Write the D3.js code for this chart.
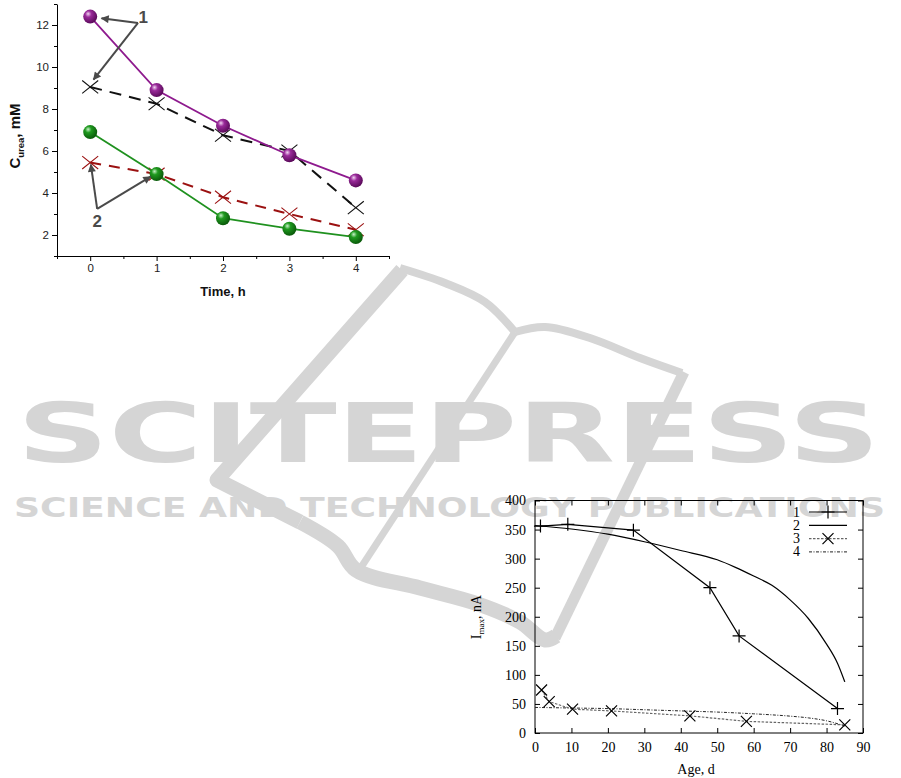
<!DOCTYPE html>
<html><head><meta charset="utf-8">
<script src="https://cdn.jsdelivr.net/npm/d3@7"></script>
<style>body{margin:0;background:#fff}svg{display:block}</style>
</head><body>
<svg id="c" width="901" height="778"></svg>
<script>
// ---------- Chart 1 data (urea concentration vs time) ----------
const times = [0, 1, 2, 3, 4];
const s1Sphere = [12.4, 8.9, 7.2, 5.8, 4.6];
const s1Cross = [9.05, 8.25, 6.75, 6.0, 3.3];
const s2Sphere = [6.9, 4.9, 2.8, 2.3, 1.9];
const s2Cross = [5.45, 4.9, 3.8, 3.0, 2.25];
const c1XTicks = [0, 1, 2, 3, 4];
const c1XMinor = [-0.5, 0.5, 1.5, 2.5, 3.5, 4.5];
const c1YTicks = [2, 4, 6, 8, 10, 12];
const c1YMinor = [1, 3, 5, 7, 9, 11, 13];

// ---------- Chart 2 data (Imax vs age) ----------
const age1 = [1.5, 9, 27, 48, 56, 83];
const imax1 = [356, 359, 349, 250, 167, 42];
const age2 = [0, 10, 20, 30, 40, 50, 55, 60, 65, 70, 75, 80, 83, 85];
const imax2 = [357, 351, 342, 329, 314, 298, 285, 270, 254, 229, 197, 153, 120, 88];
const age3 = [1.8, 3.9, 10.3, 21, 42.5, 58, 85];
const imax3 = [74, 54, 41, 38, 29.5, 20, 14];
const age4 = [0, 10, 20, 30, 40, 50, 60, 70, 75, 80, 85];
const imax4 = [44, 43, 42, 40, 38, 36, 33, 29, 26, 21, 12];
const c2XTicks = [0, 10, 20, 30, 40, 50, 60, 70, 80, 90];
const c2YTicks = [0, 50, 100, 150, 200, 250, 300, 350, 400];
const legendLabels = ["1", "2", "3", "4"];

const svg = d3.select("#c");
const defs = svg.append("defs");

// ---------- Watermark (decorative) ----------
const wmColor = "#d5d5d5";
const wm = svg.append("g").attr("fill", "none").attr("stroke", wmColor).attr("stroke-linecap", "butt").attr("stroke-linejoin", "round");
const ln = d3.line().curve(d3.curveCatmullRom);
wm.append("path").attr("stroke-width", 15)
  .attr("d", d3.line()([[402, 270], [217, 480], [300, 522]]));
wm.append("path").attr("stroke-width", 15)
  .attr("d", ln([[300, 522], [338, 546], [356, 570], [420, 588], [478, 604], [520, 622], [545, 640], [556, 636]]));
wm.append("path").attr("stroke-width", 8)
  .attr("d", ln([[400, 268], [445, 283], [485, 302], [515, 332]]));
wm.append("path").attr("stroke-width", 8)
  .attr("d", ln([[515, 332], [545, 327], [590, 338], [640, 358], [682, 373]]));
wm.append("path").attr("stroke-width", 7)
  .attr("d", d3.line()([[515, 332], [358, 572]]));
wm.append("path").attr("stroke-width", 11)
  .attr("d", d3.line()([[684, 372], [555, 638]]));
svg.append("text").attr("x", 17).attr("y", 462)
  .attr("textLength", 863).attr("lengthAdjust", "spacingAndGlyphs")
  .attr("font-family", "DejaVu Sans").attr("font-weight", "bold").attr("font-size", 82)
  .attr("fill", wmColor).text("SCITEPRESS");
svg.append("text").attr("x", 14).attr("y", 517)
  .attr("textLength", 871).attr("lengthAdjust", "spacingAndGlyphs")
  .attr("font-family", "DejaVu Sans").attr("font-weight", "bold").attr("font-size", 26)
  .attr("fill", wmColor).text("SCIENCE AND TECHNOLOGY PUBLICATIONS");

// ---------- Chart 1 ----------
const x1 = d3.scaleLinear().domain([-0.5, 4.5]).range([57, 389]);
const y1 = d3.scaleLinear().domain([1, 13]).range([256, 4]);
const g1 = svg.append("g");
const f1 = "Liberation Sans, Arial, sans-serif";

function styleAxis(g, font, size) {
  g.selectAll("path.domain").attr("stroke", "#000").attr("stroke-width", 1);
  g.selectAll(".tick line").attr("stroke", "#000");
  g.selectAll(".tick text").attr("font-family", font).attr("font-size", size).attr("fill", "#222");
}
g1.append("g").attr("transform", "translate(0,256)")
  .call(d3.axisBottom(x1).tickValues(c1XMinor).tickSize(3).tickFormat("").tickSizeOuter(0))
  .call(g => { g.select(".domain").remove(); g.selectAll("line").attr("stroke", "#000"); });
g1.append("g").attr("transform", "translate(57,0)")
  .call(d3.axisLeft(y1).tickValues(c1YMinor).tickSize(3).tickFormat("").tickSizeOuter(0))
  .call(g => { g.select(".domain").remove(); g.selectAll("line").attr("stroke", "#000"); });
g1.append("g").attr("transform", "translate(0,256)")
  .call(d3.axisBottom(x1).tickValues(c1XTicks).tickFormat(d3.format("d")).tickSize(5).tickSizeOuter(0).tickPadding(3))
  .call(g => styleAxis(g, f1, 11.5));
g1.append("g").attr("transform", "translate(57,0)")
  .call(d3.axisLeft(y1).tickValues(c1YTicks).tickFormat(d3.format("d")).tickSize(5).tickSizeOuter(0).tickPadding(3))
  .call(g => styleAxis(g, f1, 11.5));

g1.append("text").attr("x", 223).attr("y", 296).attr("text-anchor", "middle")
  .attr("font-family", f1).attr("font-weight", "bold").attr("font-size", 13).attr("fill", "#111").text("Time, h");
const yl1 = g1.append("text").attr("transform", "translate(20,136) rotate(-90)").attr("text-anchor", "middle")
  .attr("font-family", f1).attr("font-weight", "bold").attr("font-size", 15).attr("fill", "#111");
yl1.append("tspan").text("C");
yl1.append("tspan").attr("font-size", 9.5).attr("dy", 4).text("urea");
yl1.append("tspan").attr("dy", -4).text(", mM");

function sphereGrad(id, light, mid, dark) {
  const gr = defs.append("radialGradient").attr("id", id).attr("cx", "38%").attr("cy", "35%").attr("r", "65%").attr("fx", "35%").attr("fy", "30%");
  gr.append("stop").attr("offset", "0%").attr("stop-color", light);
  gr.append("stop").attr("offset", "35%").attr("stop-color", mid);
  gr.append("stop").attr("offset", "100%").attr("stop-color", dark);
}
sphereGrad("gp", "#f3d6f3", "#9a2a9a", "#5a0a5a");
sphereGrad("gg", "#c8f0c8", "#1f9a1f", "#0a5a0a");

const lineC1 = d3.line().x((d, i) => x1(times[i])).y(d => y1(d));
function crossSeries(vals, color, dash) {
  g1.append("path").attr("d", lineC1(vals)).attr("fill", "none").attr("stroke", color)
    .attr("stroke-width", 2).attr("stroke-dasharray", dash);
  vals.forEach((v, i) => {
    const cx = x1(times[i]), cy = y1(v), s = 8;
    g1.append("path").attr("d", `M${cx - s},${cy - s * 0.8}L${cx + s},${cy + s * 0.8}M${cx - s},${cy + s * 0.8}L${cx + s},${cy - s * 0.8}`)
      .attr("stroke", color).attr("stroke-width", 1.1).attr("fill", "none");
  });
}
crossSeries(s1Cross, "#111", "12,8");
crossSeries(s2Cross, "#9b1111", "11,8");
function sphereSeries(vals, color, grad) {
  g1.append("path").attr("d", lineC1(vals)).attr("fill", "none").attr("stroke", color).attr("stroke-width", 1.8);
  g1.selectAll(null).data(vals).enter().append("circle")
    .attr("cx", (d, i) => x1(times[i])).attr("cy", d => y1(d)).attr("r", 7)
    .attr("fill", `url(#${grad})`);
}
sphereSeries(s1Sphere, "#8e1a8e", "gp");
sphereSeries(s2Sphere, "#1f911f", "gg");

const annColor = "#4a4a4a";
const mk = defs.append("marker").attr("id", "ah").attr("viewBox", "0 0 10 10").attr("refX", 9).attr("refY", 5)
  .attr("markerWidth", 5).attr("markerHeight", 4).attr("orient", "auto").attr("markerUnits", "strokeWidth");
mk.append("path").attr("d", "M0,0L10,5L0,10Z").attr("fill", annColor);
const arrows = [
  [[0.72, 12.1], [0.17, 12.32]],
  [[0.72, 12.1], [0.05, 9.4]],
  [[0.105, 3.24], [0.01, 5.35]],
  [[0.105, 3.24], [0.91, 4.78]]
];
arrows.forEach(([a, b]) => {
  g1.append("line").attr("x1", x1(a[0])).attr("y1", y1(a[1])).attr("x2", x1(b[0])).attr("y2", y1(b[1]))
    .attr("stroke", annColor).attr("stroke-width", 2).attr("marker-end", "url(#ah)");
});
g1.append("text").attr("x", x1(0.8)).attr("y", y1(12.38) + 6).attr("text-anchor", "middle")
  .attr("font-family", f1).attr("font-weight", "bold").attr("font-size", 17).attr("fill", annColor).text("1");
g1.append("text").attr("x", x1(0.105)).attr("y", y1(2.67) + 6).attr("text-anchor", "middle")
  .attr("font-family", f1).attr("font-weight", "bold").attr("font-size", 17).attr("fill", annColor).text("2");

// ---------- Chart 2 ----------
const x2 = d3.scaleLinear().domain([0, 90]).range([535, 863]);
const y2 = d3.scaleLinear().domain([0, 400]).range([733, 500.5]);
const g2 = svg.append("g");
const f2 = "Liberation Serif, Times New Roman, serif";
g2.append("rect").attr("x", 535).attr("y", 500.5).attr("width", 328).attr("height", 232.5)
  .attr("fill", "none").attr("stroke", "#000").attr("stroke-width", 1);
function noDomain(g) { g.select(".domain").remove(); g.selectAll(".tick line").attr("stroke", "#000"); }
g2.append("g").attr("transform", "translate(0,733)")
  .call(d3.axisBottom(x2).tickValues(c2XTicks).tickSize(-5).tickPadding(9))
  .call(noDomain).call(g => g.selectAll("text").attr("font-family", f2).attr("font-size", 14).attr("fill", "#000"));
g2.append("g").attr("transform", "translate(0,500.5)")
  .call(d3.axisTop(x2).tickValues(c2XTicks).tickSize(-5).tickFormat(""))
  .call(noDomain);
g2.append("g").attr("transform", "translate(535,0)")
  .call(d3.axisLeft(y2).tickValues(c2YTicks).tickSize(-5).tickPadding(9))
  .call(noDomain).call(g => g.selectAll("text").attr("font-family", f2).attr("font-size", 14).attr("fill", "#000"));
g2.append("g").attr("transform", "translate(863,0)")
  .call(d3.axisRight(y2).tickValues(c2YTicks).tickSize(-5).tickFormat(""))
  .call(noDomain);

g2.append("text").attr("x", 696).attr("y", 774).attr("text-anchor", "middle")
  .attr("font-family", f2).attr("font-size", 14).attr("fill", "#000").text("Age, d");
const yl2 = g2.append("text").attr("transform", "translate(481,617) rotate(-90)").attr("text-anchor", "middle")
  .attr("font-family", f2).attr("font-size", 14).attr("fill", "#000");
yl2.append("tspan").text("I");
yl2.append("tspan").attr("font-size", 9).attr("dy", 3).text("max");
yl2.append("tspan").attr("dy", -3).text(", nA");

const line2 = (xs) => d3.line().x((d, i) => x2(xs[i])).y(d => y2(d));
function plus(g, cx, cy, s) {
  g.append("path").attr("d", `M${cx - s},${cy}H${cx + s}M${cx},${cy - s}V${cy + s}`).attr("stroke", "#000").attr("stroke-width", 1.2);
}
function cross(g, cx, cy, s) {
  g.append("path").attr("d", `M${cx - s},${cy - s}L${cx + s},${cy + s}M${cx - s},${cy + s}L${cx + s},${cy - s}`).attr("stroke", "#000").attr("stroke-width", 1.2);
}
g2.append("path").attr("d", line2(age4).curve(d3.curveMonotoneX)(imax4)).attr("fill", "none").attr("stroke", "#222").attr("stroke-width", 1).attr("stroke-dasharray", "3,1.5,1,1.5");
g2.append("path").attr("d", line2(age3)(imax3)).attr("fill", "none").attr("stroke", "#666").attr("stroke-width", 1.2).attr("stroke-dasharray", "2.5,1.5");
g2.append("path").attr("d", line2(age2).curve(d3.curveMonotoneX)(imax2)).attr("fill", "none").attr("stroke", "#000").attr("stroke-width", 1.2);
g2.append("path").attr("d", line2(age1)(imax1)).attr("fill", "none").attr("stroke", "#000").attr("stroke-width", 1.2);
imax1.forEach((v, i) => plus(g2, x2(age1[i]), y2(v), 6.5));
imax3.forEach((v, i) => cross(g2, x2(age3[i]), y2(v), 5.5));

const lg = g2.append("g");
legendLabels.forEach((t, i) => {
  const yy = 512 + i * 13.3;
  lg.append("text").attr("x", 800).attr("y", yy + 4.5).attr("text-anchor", "end")
    .attr("font-family", f2).attr("font-size", 14).attr("fill", "#000").text(t);
  const l = lg.append("line").attr("x1", 809).attr("x2", 847).attr("y1", yy).attr("y2", yy).attr("stroke-width", 1.2);
  if (i === 0 || i === 1) l.attr("stroke", "#000");
  if (i === 2) l.attr("stroke", "#666").attr("stroke-dasharray", "2.5,1.5");
  if (i === 3) l.attr("stroke", "#222").attr("stroke-dasharray", "3,1.5,1,1.5").attr("stroke-width", 1);
  if (i === 0) plus(lg, 828, yy, 6.5);
  if (i === 2) cross(lg, 828, yy, 5.5);
});
</script>
</body></html>
